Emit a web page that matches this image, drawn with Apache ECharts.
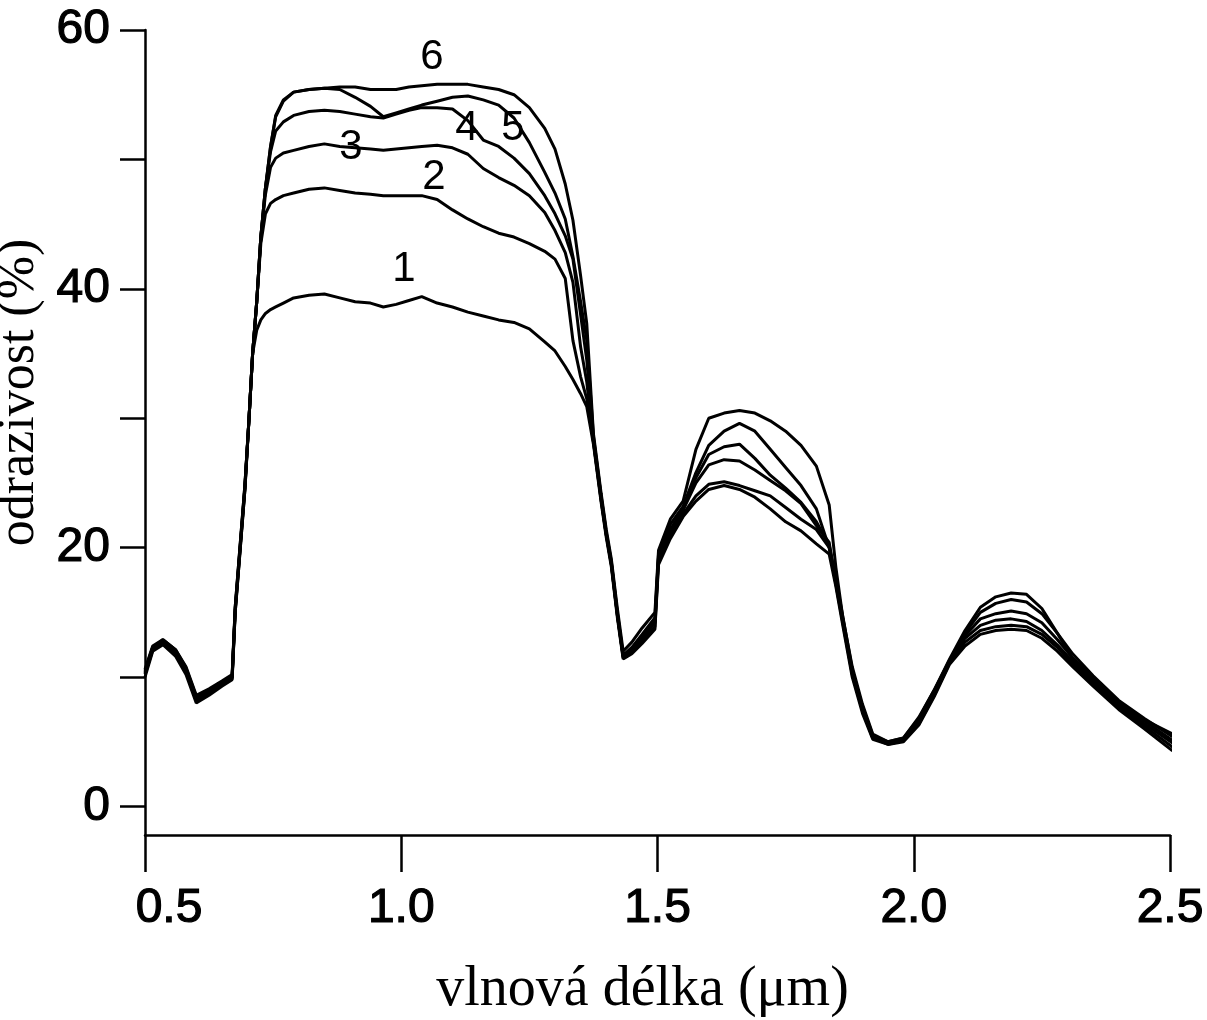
<!DOCTYPE html>
<html>
<head>
<meta charset="utf-8">
<script src="https://cdn.jsdelivr.net/npm/echarts@6/dist/echarts.min.js"></script>
<style>
html,body{margin:0;padding:0;background:#fff;}
#chart{width:1207px;height:1020px;}
</style>
</head>
<body>
<div id="chart"></div>
<script>
// wavelength (µm)
var wavelength = [
0.500, 0.515, 0.535, 0.560, 0.580, 0.600, 0.625, 0.650, 0.670, 0.676,
0.685, 0.695, 0.703, 0.710, 0.718, 0.726, 0.735, 0.745, 0.755, 0.770,
0.790, 0.820, 0.850, 0.880, 0.910, 0.940, 0.965, 0.990, 1.015, 1.040,
1.070, 1.100, 1.130, 1.160, 1.190, 1.220, 1.250, 1.280, 1.300, 1.320,
1.335, 1.350, 1.362, 1.375, 1.390, 1.400, 1.410, 1.422, 1.433, 1.450,
1.470, 1.495, 1.502, 1.525, 1.550, 1.575, 1.600, 1.630, 1.660, 1.690,
1.720, 1.750, 1.780, 1.810, 1.835, 1.848, 1.862, 1.880, 1.900, 1.920,
1.950, 1.980, 2.010, 2.040, 2.070, 2.100, 2.130, 2.160, 2.190, 2.220,
2.250, 2.280, 2.310, 2.350, 2.400, 2.450, 2.505
];
// reflectance (%) of the six spectra
var curve1 = [
10.0, 12.0, 12.5, 11.6, 10.2, 8.0, 8.6, 9.3, 9.8, 15.0,
19.5, 24.5, 30.0, 35.0, 36.8, 37.6, 38.1, 38.4, 38.6, 38.9,
39.3, 39.5, 39.6, 39.3, 39.0, 38.9, 38.6, 38.8, 39.1, 39.4,
38.9, 38.6, 38.2, 37.9, 37.6, 37.4, 36.9, 35.9, 35.2, 34.0,
33.0, 31.9, 30.9, 28.0, 23.5, 20.8, 18.5, 14.5, 11.4, 11.8,
12.6, 13.7, 18.7, 20.7, 22.4, 23.6, 24.5, 24.8, 24.5, 23.9,
23.0, 22.0, 21.3, 20.3, 19.5, 17.0, 13.9, 10.0, 7.2, 5.2,
4.8, 5.0, 6.3, 8.5, 11.0, 12.4, 13.3, 13.6, 13.7, 13.6,
13.0, 12.0, 10.8, 9.3, 7.5, 6.0, 4.3
];
var curve2 = [
10.2, 12.1, 12.6, 11.8, 10.4, 8.2, 8.7, 9.4, 9.9, 15.0,
19.5, 24.5, 30.0, 35.0, 39.0, 43.5, 45.8, 46.6, 46.9, 47.2,
47.4, 47.7, 47.8, 47.6, 47.4, 47.3, 47.2, 47.2, 47.2, 47.2,
46.9, 46.1, 45.4, 44.8, 44.3, 44.0, 43.5, 42.9, 42.3, 40.8,
36.0, 33.2, 31.5, 28.2, 23.7, 21.0, 18.7, 14.7, 11.5, 12.0,
12.8, 13.9, 19.0, 21.0, 22.6, 24.0, 24.9, 25.1, 24.8, 24.4,
24.0, 23.1, 22.2, 21.4, 20.0, 17.2, 14.1, 10.2, 7.4, 5.3,
4.9, 5.1, 6.4, 8.6, 11.1, 12.7, 13.6, 13.9, 14.0, 13.9,
13.3, 12.3, 11.0, 9.5, 7.7, 6.2, 4.6
];
var curve3 = [
10.3, 12.2, 12.7, 11.9, 10.5, 8.3, 8.8, 9.5, 10.0, 15.2,
19.7, 24.7, 30.0, 35.0, 39.0, 44.0, 47.3, 49.4, 50.1, 50.5,
50.7, 51.0, 51.2, 51.0, 50.9, 50.8, 50.7, 50.8, 50.9, 51.0,
51.1, 50.9, 50.4, 49.3, 48.6, 48.0, 47.2, 45.9, 44.5, 42.8,
40.5, 35.5, 32.8, 28.2, 23.7, 21.0, 18.7, 14.7, 11.6, 12.2,
13.1, 14.3, 19.3, 21.3, 22.9, 25.0, 26.4, 26.8, 26.7, 26.0,
25.2, 24.4, 23.4, 21.7, 20.4, 17.3, 14.3, 10.3, 7.5, 5.3,
4.8, 5.1, 6.5, 8.7, 11.1, 13.0, 14.0, 14.4, 14.5, 14.3,
13.6, 12.5, 11.2, 9.6, 7.8, 6.4, 4.9
];
var curve4 = [
10.4, 12.3, 12.8, 12.0, 10.6, 8.4, 8.9, 9.5, 10.0, 15.2,
19.7, 24.7, 30.0, 35.0, 39.0, 44.0, 47.8, 50.6, 52.2, 52.9,
53.4, 53.7, 53.8, 53.7, 53.5, 53.3, 53.2, 53.5, 53.8, 54.0,
54.0, 53.9, 53.0, 51.5, 51.0, 50.1, 48.9, 47.2, 45.8, 44.1,
42.3, 38.0, 34.5, 28.4, 23.9, 21.1, 18.8, 14.8, 11.6, 12.1,
13.0, 14.2, 19.2, 21.4, 23.0, 25.4, 27.2, 27.8, 28.0, 26.9,
25.6, 24.6, 23.5, 22.0, 20.2, 17.5, 14.4, 10.4, 7.6, 5.4,
4.9, 5.2, 6.6, 8.8, 11.2, 13.2, 14.5, 14.9, 15.1, 14.9,
14.2, 12.9, 11.5, 9.9, 8.0, 6.6, 5.1
];
var curve5 = [
10.5, 12.3, 12.9, 12.1, 10.7, 8.5, 9.0, 9.6, 10.1, 15.4,
19.9, 24.9, 30.0, 35.0, 39.0, 44.0, 47.8, 51.0, 53.3, 54.5,
55.2, 55.4, 55.5, 55.4, 54.8, 54.1, 53.3, 53.6, 53.9, 54.2,
54.5, 54.8, 54.9, 54.6, 54.2, 53.2, 51.3, 49.0, 47.4, 45.4,
42.5, 39.0, 36.0, 28.6, 24.0, 21.2, 18.9, 14.9, 11.7, 12.3,
13.3, 14.6, 19.5, 21.8, 23.2, 25.8, 27.9, 29.0, 29.6, 29.0,
27.6, 26.2, 24.8, 23.0, 20.0, 17.6, 14.6, 10.6, 7.7, 5.5,
5.0, 5.3, 6.8, 9.0, 11.3, 13.4, 15.0, 15.7, 16.0, 15.8,
14.9, 13.4, 11.8, 10.1, 8.2, 6.8, 5.4
];
var curve6 = [
10.6, 12.4, 12.9, 12.1, 10.8, 8.6, 9.1, 9.7, 10.2, 15.4,
19.9, 24.9, 30.0, 35.0, 39.0, 44.0, 47.8, 51.0, 53.4, 54.6,
55.2, 55.4, 55.5, 55.6, 55.6, 55.4, 55.4, 55.4, 55.6, 55.7,
55.8, 55.8, 55.8, 55.6, 55.4, 55.0, 54.0, 52.4, 50.8, 48.1,
45.3, 41.0, 37.3, 28.8, 24.2, 21.4, 19.1, 15.2, 12.0, 12.7,
13.8, 15.0, 19.8, 22.2, 23.6, 27.6, 30.0, 30.4, 30.6, 30.4,
29.8, 29.0, 27.9, 26.3, 23.3, 18.5, 14.5, 10.8, 7.9, 5.6,
5.0, 5.3, 6.9, 9.0, 11.4, 13.6, 15.4, 16.2, 16.5, 16.4,
15.3, 13.4, 11.4, 9.8, 8.1, 6.7, 5.6
];
// curve number labels and where they sit
var labelNames = ['1', '2', '3', '4', '5', '6'];
var labelX = [1.005, 1.064, 0.902, 1.128, 1.218, 1.060];
var labelY = [41.5, 48.6, 50.9, 52.4, 52.4, 57.9];
// axis ticks
var xTicks = [0.5, 1.0, 1.5, 2.0, 2.5];
var yTicks = [0, 10, 20, 30, 40, 50, 60];
var yLabels = [0, 20, 40, 60];

var curves = [curve1, curve2, curve3, curve4, curve5, curve6];

function pairs(vals) {
  return wavelength.map(function (w, i) { return [w, vals[i]]; });
}

var series = curves.map(function (c, k) {
  return {
    type: 'line',
    name: labelNames[k],
    data: pairs(c),
    symbol: 'none',
    clip: false,
    lineStyle: { color: '#000', width: 3 },
    z: 2
  };
});

series.push({
  type: 'scatter',
  data: labelNames.map(function (n, i) { return { name: n, value: [labelX[i], labelY[i]] }; }),
  symbol: 'circle',
  symbolSize: 0,
  itemStyle: { color: '#000' },
  label: {
    show: true,
    position: 'inside',
    formatter: function (p) { return p.name; },
    fontFamily: 'Liberation Sans, Arial, sans-serif',
    fontSize: 42,
    color: '#000',
    opacity: 1
  },
  z: 5
});

var tickFont = {
  fontFamily: 'Liberation Sans, Arial, sans-serif',
  fontSize: 48,
  color: '#000',
  textBorderColor: '#000',
  textBorderWidth: 1.2
};

var chart = echarts.init(document.getElementById('chart'), null, { renderer: 'canvas' });
chart.setOption({
  animation: false,
  backgroundColor: '#fff',
  grid: { left: 145, right: 37, top: 30, bottom: 185, containLabel: false, outerBoundsMode: 'none' },
  xAxis: {
    type: 'value',
    min: xTicks[0],
    max: xTicks[xTicks.length - 1],
    interval: 0.5,
    name: 'vlnová délka (μm)',
    nameLocation: 'middle',
    nameGap: 127,
    nameTextStyle: { fontFamily: 'Liberation Serif, Times New Roman, serif', fontSize: 56, color: '#000', padding: [0, 30, 0, 0] },
    axisLine: { show: true, onZero: false, lineStyle: { color: '#000', width: 2.5 } },
    axisTick: { show: true, inside: false, length: 37, lineStyle: { color: '#000', width: 2.5 } },
    axisLabel: Object.assign({
      margin: 50,
      formatter: function (v) {
        var s = v.toFixed(1);
        return v === xTicks[0] ? '{m|' + s + '}' : s;
      },
      rich: { m: Object.assign({ padding: [0, 0, 0, 48] }, tickFont) }
    }, tickFont),
    splitLine: { show: false }
  },
  yAxis: {
    type: 'value',
    min: -2.2,
    max: 60,
    name: 'odrazivost (%)',
    nameLocation: 'middle',
    nameRotate: 90,
    nameGap: 52,
    nameTextStyle: { fontFamily: 'Liberation Serif, Times New Roman, serif', fontSize: 52, color: '#000', padding: [0, 0, 0, 80] },
    axisLine: { show: true, onZero: false, lineStyle: { color: '#000', width: 2.5 } },
    axisTick: { show: true, inside: false, length: 25, customValues: yTicks, lineStyle: { color: '#000', width: 2.5 } },
    axisLabel: Object.assign({
      margin: 35,
      customValues: yLabels
    }, tickFont),
    splitLine: { show: false }
  },
  series: series
});
</script>
</body>
</html>
